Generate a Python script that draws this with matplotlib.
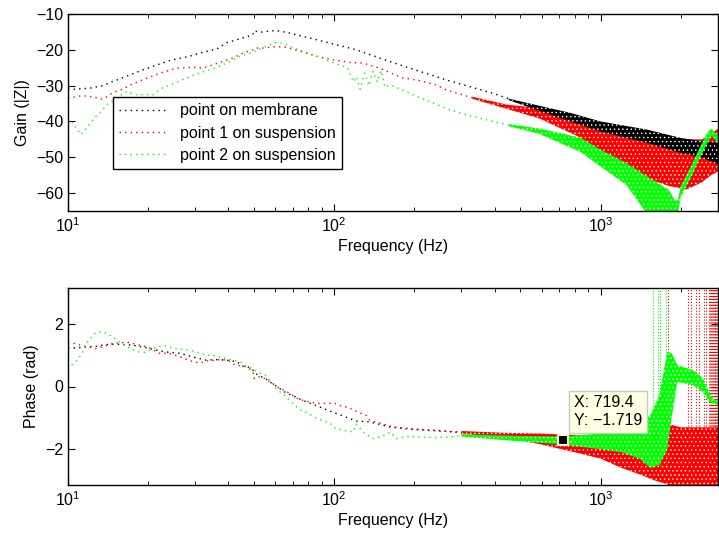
import numpy as np
import matplotlib
matplotlib.use("Agg")
import matplotlib.pyplot as plt

plt.rcParams['font.family'] = ['Liberation Sans', 'DejaVu Sans']
plt.rcParams['font.size'] = 11.5
plt.rcParams['hatch.linewidth'] = 0.5

# ---- gain (top) ----
mem_f = [10, 10.6, 12.1, 13.5, 14.4, 15.3, 17.1, 19.1, 21.6, 24.1, 28.6, 32, 36.2, 39.5, 44.3, 49.5, 50, 52.5,
         60, 66, 74, 86, 102, 121, 148, 176, 209, 263, 300, 400, 500]
mem_g = [-31, -31, -30.7, -30, -29.1, -28.4, -27, -25.6, -24.2, -23, -21.8, -20.7, -19.8, -18, -16.9, -15.8, -14.7, -15.1,
         -14.6, -15.1, -16, -17.2, -18.6, -20, -22.3, -24.2, -26, -28.4, -29.6, -32.3, -34.8]
mem_band_f = [450, 500, 770, 1000, 1500, 2000, 2400, 2760]
mem_band_hi = [-33.6, -34.4, -37.6, -40, -42.3, -44.6, -45.5, -46]
mem_band_lo = [-34.0, -35.2, -40.0, -42.8, -46, -48.8, -50, -52]

s1_f = [10, 11.3, 11.9, 12.6, 13.5, 14.8, 15.9, 17.5, 19.8, 22.2, 25.6, 29.5, 32, 35, 38.2, 41.6, 45.4, 49.5, 50.4,
        54, 60.7, 66, 74.5, 86, 99, 114, 128, 148, 162, 180, 209, 242, 263, 330]
s1_g = [-33.5, -32.8, -33, -33.3, -33.8, -31.9, -31.1, -29.5, -27.9, -26.5, -25.1, -24.9, -25.1, -24.2, -23.2, -22.3, -20.9, -20, -19.5,
        -19.5, -19.1, -19.3, -20.4, -21.8, -22.8, -23.5, -23.7, -25.1, -26.4, -27.8, -28.6, -29.8, -31.2, -33.4]
s1_band_f = [330, 445, 590, 840, 1000, 1250, 1500, 1800, 2100, 2400, 2600, 2760]
s1_band_hi = [-33.1, -35.3, -36.3, -39.5, -41, -42, -43.5, -44.5, -45, -45, -43.5, -42]
s1_band_lo = [-33.7, -36.5, -39.2, -44.5, -49, -52, -56, -58, -59, -57, -55, -54]

s2_f = [10, 10.2, 11.2, 12.6, 13.2, 14, 15.3, 16.6, 18, 20.9, 22.7, 24.8, 28, 31.3, 35, 39.5, 44.3, 49.5, 54,
        60, 64, 70, 79, 89, 99, 112, 118, 121, 125, 130, 135, 140, 145, 150, 155, 162, 180, 204, 234, 270, 330, 450]
s2_g = [-39, -39.5, -43.7, -38.9, -37.6, -35.3, -33.4, -31.7, -32.5, -32.5, -30.6, -29.5, -27.8, -26.4, -25.3, -23.7, -21.8, -20.7, -19.4,
        -18, -18.1, -19.4, -20.8, -22.2, -23.6, -25, -29, -27.5, -31, -26.5, -30, -26, -29, -25.8, -30.5, -29.8, -31.2, -33, -34.8, -36.7, -38.6, -41]
s2_band_f = [450, 590, 840, 1000, 1250, 1500, 1800, 1900, 1950, 2000, 2170, 2350, 2520, 2610, 2760]
s2_band_hi = [-40.7, -42, -44.5, -47.9, -51.6, -55.4, -59, -62, -62, -58, -53, -47.5, -43, -42, -44]
s2_band_lo = [-41.3, -43.5, -48.5, -52.6, -57.7, -66, -66, -66, -66, -61, -56, -50.5, -46, -44, -46]

# ---- phase (bottom) ----
mem_pf = [10, 10.6, 11.9, 12.6, 13.5, 14.4, 15.3, 17.4, 19.4, 22, 23.5, 26.3, 29.5, 33, 35.5, 39.5, 43, 45.4, 47.3,
          49.5, 51.6, 55, 57.2, 60, 65, 69, 76, 88, 101.5, 121, 136, 162, 197, 242, 305, 455, 660, 720]
mem_p = [1.22, 1.23, 1.27, 1.27, 1.32, 1.35, 1.35, 1.32, 1.25, 1.14, 1.1, 1.06, 0.94, 0.84, 0.86, 0.84, 0.79, 0.65, 0.63,
         0.52, 0.36, 0.26, 0.15, 0.04, -0.17, -0.28, -0.44, -0.65, -0.86, -1.1, -1.13, -1.29, -1.37, -1.4, -1.48, -1.61, -1.69, -1.72]

s1_pf = [10, 10.6, 11.3, 11.9, 12.7, 13.5, 14.4, 15.3, 16.2, 17.1, 18, 19.8, 22.2, 23.5, 24.8, 28, 29.5, 31.3, 33, 37.3,
         39.8, 42, 45, 47, 49.5, 50, 51, 55, 60, 61, 68, 74, 86, 95, 99, 108, 112, 122, 132, 136, 148, 166, 192, 242, 305]
s1_p = [1.4, 1.37, 1.3, 1.27, 1.21, 1.27, 1.35, 1.39, 1.4, 1.4, 1.34, 1.27, 1.05, 1.07, 1.03, 0.86, 0.79, 0.75, 0.81, 0.86,
        0.84, 0.71, 0.65, 0.62, 0.47, 0.26, 0.33, 0.26, 0.04, -0.01, -0.22, -0.42, -0.54, -0.54, -0.52, -0.65, -0.65, -0.81, -0.92, -1.08, -1.16, -1.29, -1.34, -1.42, -1.45]
s1_pband_f = [300, 450, 600, 800, 1000, 1200, 1400, 1600, 1750, 1800, 2000, 2400, 2760]
s1_pband_hi = [-1.42, -1.48, -1.5, -1.55, -1.6, -1.6, -1.6, -1.55, -1.5, -1.2, -1.3, -1.3, -1.3]
s1_pband_lo = [-1.5, -1.65, -1.85, -2.1, -2.3, -2.6, -2.8, -3.0, -3.1, -3.14, -3.14, -3.14, -3.14]
s1_wrap_f = [1790, 2130, 2190, 2290, 2350, 2435, 2490, 2560, 2580, 2600, 2620, 2640, 2660, 2680, 2700, 2720, 2740, 2760]

s2_pf = [10, 10.3, 10.9, 11.3, 11.9, 12.3, 12.7, 13.5, 14.2, 15, 15.9, 17.4, 18.6, 19.4, 21.8, 23.3, 24.5, 25.9, 29.2,
         31.3, 33, 35, 37.3, 39.5, 41.6, 44.3, 46.1, 49, 50, 52.5, 55, 58, 61, 65, 68, 74, 79, 86, 96, 101, 109, 118,
         121, 130, 140, 152, 162, 172, 192, 209, 242, 270, 305]
s2_p = [0.55, 0.68, 0.86, 1.07, 1.46, 1.58, 1.72, 1.74, 1.66, 1.53, 1.37, 1.18, 1.09, 1.09, 1.27, 1.3, 1.23, 1.2, 1.14,
        1.07, 1.0, 1.0, 0.93, 0.89, 0.84, 0.79, 0.68, 0.57, 0.52, 0.43, 0.36, 0.15, -0.1, -0.28, -0.44, -0.73, -0.84, -1.02, -1.16, -1.34, -1.4, -1.45,
        -1.2, -1.5, -1.66, -1.58, -1.45, -1.66, -1.58, -1.61, -1.63, -1.61, -1.56]
s2_pband_f = [300, 500, 720, 1000, 1200, 1400, 1540, 1660, 1780, 1850, 1940, 2230, 2420, 2560, 2650, 2760]
s2_pband_hi = [-1.52, -1.58, -1.6, -1.5, -1.45, -1.2, -0.9, -0.3, 1.1, 1.06, 0.68, 0.52, 0.27, -0.17, -0.4, -0.44]
s2_pband_lo = [-1.6, -1.75, -1.85, -2.0, -2.1, -2.3, -2.6, -2.5, -2.0, -1.0, 0.15, 0.04, -0.17, -0.5, -0.55, -0.58]
s2_wrap_f = [1570, 1640, 1665, 1760]

tip_x, tip_y = 719.4, -1.719

labels = ['point on membrane', 'point 1 on suspension', 'point 2 on suspension']
colors = ['k', '#ff0000', '#00ff00']
dots = (0, (1, 3))


def band(ax, f, lo, hi, c, z):
    # dense noisy band: solid colour with a fine white speckle
    ax.fill_between(f, lo, hi, facecolor=c, edgecolor='white', hatch='....', lw=0, zorder=z)


fig = plt.figure(figsize=(7.19, 5.36), dpi=100)
ax1 = fig.add_axes([68 / 719, 1 - 211 / 536, 650 / 719, 197 / 536])
ax2 = fig.add_axes([68 / 719, 1 - 485 / 536, 650 / 719, 197 / 536])

# top: red band under black band, green on top
ax1.plot(mem_f, mem_g, color=colors[0], ls=dots, lw=1.0, label=labels[0])
ax1.plot(s1_f, s1_g, color=colors[1], ls=dots, lw=1.0, label=labels[1])
ax1.plot(s2_f, s2_g, color=colors[2], ls=dots, lw=1.0, label=labels[2])
band(ax1, s1_band_f, s1_band_lo, s1_band_hi, colors[1], 2.0)
band(ax1, mem_band_f, mem_band_lo, mem_band_hi, colors[0], 2.1)
band(ax1, s2_band_f, s2_band_lo, s2_band_hi, colors[2], 2.2)

# bottom
ax2.plot(mem_pf, mem_p, color=colors[0], ls=dots, lw=1.0)
ax2.plot(s1_pf, s1_p, color=colors[1], ls=dots, lw=1.0)
ax2.vlines(s1_wrap_f, -np.pi, np.pi, color=colors[1], linestyles=':', lw=0.8)
band(ax2, s1_pband_f, s1_pband_lo, s1_pband_hi, colors[1], 2.0)
ax2.plot(s2_pf, s2_p, color=colors[2], ls=dots, lw=1.0)
ax2.vlines(s2_wrap_f, -2.5, np.pi, color=colors[2], linestyles=':', lw=0.8)
band(ax2, s2_pband_f, s2_pband_lo, s2_pband_hi, colors[2], 2.2)

ax2.plot([tip_x], [tip_y], 's', color='k', ms=7, mec='#fffbe0', mew=1.5, zorder=5)
ax2.annotate('X: %.1f\nY: \u2212%.3f' % (tip_x, -tip_y), xy=(tip_x, tip_y), xytext=(11, 12),
             textcoords='offset pixels', ha='left', va='bottom', fontsize=11.5, linespacing=1.25,
             bbox=dict(boxstyle='square,pad=0.3', fc='#ffffe1', ec='#c8c8c8', lw=1), zorder=6)

for ax in (ax1, ax2):
    ax.set_xscale('log')
    ax.set_xlim(10, 2760)
    ax.tick_params(which='both', direction='in', top=True, right=True)
    ax.tick_params(which='major', length=5)
    ax.tick_params(which='minor', length=3)
    ax.set_xlabel('Frequency (Hz)', labelpad=3)
    for s in ax.spines.values():
        s.set_linewidth(1.0)
        s.set_zorder(3)

ax1.set_ylim(-65, -10)
ax1.set_yticks([-60, -50, -40, -30, -20, -10])
ax1.set_ylabel('Gain (|Z|)')
ax2.set_ylim(-np.pi, np.pi)
ax2.set_yticks([-2, 0, 2])
ax2.set_ylabel('Phase (rad)')

leg = ax1.legend(loc='upper left', bbox_to_anchor=(0.069, 0.579), fancybox=False, framealpha=1,
                 edgecolor='k', handlelength=3.0, borderaxespad=0, labelspacing=0.45)
leg.get_frame().set_linewidth(1.0)

fig.savefig('out.png', dpi=100)
